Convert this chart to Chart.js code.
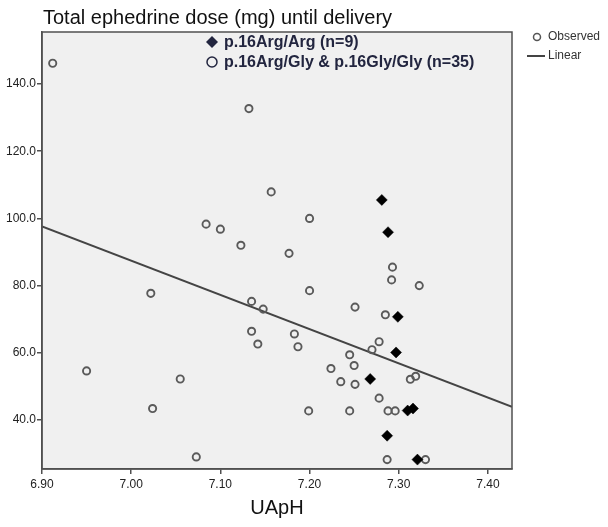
<!DOCTYPE html>
<html>
<head>
<meta charset="utf-8">
<script src="https://cdn.jsdelivr.net/npm/chart.js@4/dist/chart.umd.min.js"></script>
<style>
  html, body { margin: 0; padding: 0; background: #fff; }
  #wrap { width: 608px; height: 527px; position: relative; }
</style>
</head>
<body>
<div id="wrap"><canvas id="c" width="608" height="527"></canvas></div>
<script>
// ---- data ----
const chartTitle = "Total ephedrine dose (mg) until delivery";
const xAxisTitle = "UApH";
const xTicks = [6.90, 7.00, 7.10, 7.20, 7.30, 7.40];
const yTicks = [40, 60, 80, 100, 120, 140];
const xRange = [6.90, 7.427];
const yRange = [25.4, 155.5];

// open circles (p.16Arg/Gly & p.16Gly/Gly, shown as "Observed")
const observedX = [6.912, 7.132, 7.157, 7.200, 7.084, 7.100, 7.123, 7.177, 7.200, 7.022,
                   7.135, 7.148, 7.135, 7.142, 6.950, 7.055, 7.024, 7.073, 7.293, 7.292,
                   7.323, 7.251, 7.285, 7.183, 7.187, 7.278, 7.270, 7.245, 7.250, 7.224,
                   7.235, 7.251, 7.313, 7.319, 7.278, 7.199, 7.245, 7.288, 7.296, 7.287, 7.330];
const observedY = [146.2, 132.7, 107.9, 100.0, 98.3, 96.8, 92.0, 89.6, 78.5, 77.7,
                   75.3, 73.0, 66.4, 62.6, 54.6, 52.2, 43.4, 29.0, 85.5, 81.7,
                   80.0, 73.6, 71.3, 65.6, 61.8, 63.3, 60.9, 59.4, 56.2, 55.3,
                   51.4, 50.6, 52.1, 53.0, 46.5, 42.7, 42.7, 42.7, 42.7, 28.2, 28.2];

// filled diamonds (p.16Arg/Arg, n=9)
const argArgX = [7.281, 7.288, 7.299, 7.297, 7.268, 7.310, 7.316, 7.287, 7.321];
const argArgY = [105.5, 95.9, 70.7, 60.1, 52.2, 42.8, 43.4, 35.3, 28.2];

// linear fit line end points
const fitX = [6.90, 7.427];
const fitY = [97.6, 43.9];

const legendInside = ["p.16Arg/Arg (n=9)", "p.16Arg/Gly & p.16Gly/Gly (n=35)"];
const legendRight = ["Observed", "Linear"];

// ---- build ----
const toPts = (xs, ys) => xs.map((x, i) => ({ x: x, y: ys[i] }));
const FONT = '"Liberation Sans", Arial, sans-serif';

const decor = {
  id: 'decor',
  beforeDraw(chart) {
    const { ctx, chartArea: a } = chart;
    ctx.save();
    ctx.fillStyle = '#f0f0f0';
    ctx.fillRect(a.left, a.top, a.right - a.left, a.bottom - a.top);
    ctx.restore();
  },
  afterDraw(chart) {
    const { ctx, chartArea: a } = chart;
    ctx.save();
    // frame
    ctx.strokeStyle = '#505050';
    ctx.lineWidth = 1.5;
    ctx.strokeRect(a.left, a.top, a.right - a.left, a.bottom - a.top);

    // title
    ctx.fillStyle = '#111';
    ctx.font = '20px ' + FONT;
    ctx.textBaseline = 'alphabetic';
    ctx.textAlign = 'left';
    ctx.fillText(chartTitle, 43, 24);

    // x axis title
    ctx.textAlign = 'center';
    ctx.fillText(xAxisTitle, (a.left + a.right) / 2, 514);

    // inside legend
    const navy = '#22253f';
    ctx.textAlign = 'left';
    ctx.textBaseline = 'middle';
    ctx.font = 'bold 16px ' + FONT;
    ctx.fillStyle = navy;
    ctx.beginPath();
    ctx.moveTo(212, 36); ctx.lineTo(218, 42); ctx.lineTo(212, 48); ctx.lineTo(206, 42); ctx.closePath();
    ctx.fill();
    ctx.fillText(legendInside[0], 224, 43);
    ctx.beginPath();
    ctx.strokeStyle = navy;
    ctx.lineWidth = 1.5;
    ctx.arc(212, 62, 5, 0, Math.PI * 2);
    ctx.stroke();
    ctx.fillText(legendInside[1], 224, 63);

    // right legend
    ctx.font = '12px ' + FONT;
    ctx.fillStyle = '#333';
    ctx.strokeStyle = '#555';
    ctx.lineWidth = 1.5;
    ctx.beginPath();
    ctx.arc(537, 37, 3.5, 0, Math.PI * 2);
    ctx.stroke();
    ctx.fillText(legendRight[0], 548, 37);
    ctx.strokeStyle = '#444';
    ctx.lineWidth = 2;
    ctx.beginPath();
    ctx.moveTo(527, 56); ctx.lineTo(545, 56);
    ctx.stroke();
    ctx.fillText(legendRight[1], 548, 56);
    ctx.restore();
  }
};

new Chart(document.getElementById('c'), {
  type: 'scatter',
  data: {
    datasets: [
      {
        label: legendInside[0],
        data: toPts(argArgX, argArgY),
        pointStyle: 'rectRot',
        pointRadius: 5.5,
        backgroundColor: '#000',
        borderColor: '#000',
        borderWidth: 0.5
      },
      {
        label: legendRight[0],
        data: toPts(observedX, observedY),
        pointStyle: 'circle',
        pointRadius: 3.6,
        backgroundColor: 'rgba(0,0,0,0)',
        borderColor: '#5a5a5a',
        borderWidth: 1.9
      },
      {
        type: 'line',
        label: legendRight[1],
        data: toPts(fitX, fitY),
        showLine: true,
        pointRadius: 0,
        borderColor: '#444',
        borderWidth: 2,
        fill: false
      }
    ]
  },
  options: {
    responsive: false,
    animation: false,
    events: [],
    layout: { padding: { top: 32, right: 96, left: 0, bottom: 0 } },
    plugins: { legend: { display: false }, tooltip: { enabled: false }, title: { display: false } },
    scales: {
      x: {
        type: 'linear',
        min: xRange[0],
        max: xRange[1],
        afterBuildTicks: (s) => { s.ticks = xTicks.map(v => ({ value: v })); },
        afterFit: (s) => { s.height = 58; },
        ticks: {
          callback: (v) => Number(v).toFixed(2),
          font: { family: FONT, size: 12 },
          color: '#222',
          padding: 3,
          maxRotation: 0,
          autoSkip: false
        },
        grid: { display: true, drawOnChartArea: false, drawTicks: true, tickLength: 5, color: '#505050', lineWidth: 1.5 },
        border: { display: true, color: '#505050', width: 1.5 }
      },
      y: {
        type: 'linear',
        min: yRange[0],
        max: yRange[1],
        afterBuildTicks: (s) => { s.ticks = yTicks.map(v => ({ value: v })); },
        afterFit: (s) => { s.width = 42; },
        ticks: {
          callback: (v) => Number(v).toFixed(1),
          font: { family: FONT, size: 12 },
          color: '#222',
          padding: 1,
          autoSkip: false
        },
        grid: { display: true, drawOnChartArea: false, drawTicks: true, tickLength: 5, color: '#505050', lineWidth: 1.5 },
        border: { display: true, color: '#505050', width: 1.5 }
      }
    }
  },
  plugins: [decor]
});
</script>
</body>
</html>
